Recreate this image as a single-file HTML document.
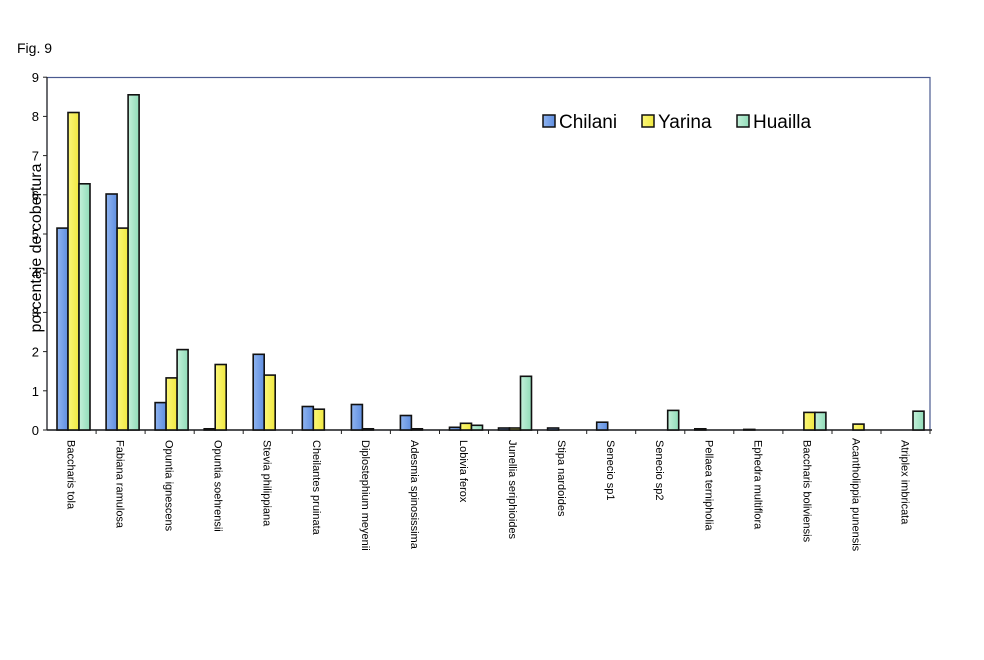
<!DOCTYPE html>
<html><head><meta charset="utf-8"><style>
body{margin:0;background:#fff;}
svg{display:block;font-family:"Liberation Sans",Arial,sans-serif;}
</style></head><body>
<svg width="984" height="660" viewBox="0 0 984 660" xmlns="http://www.w3.org/2000/svg">
<defs>
<linearGradient id="gb" x1="0" x2="1"><stop offset="0" stop-color="#8fb4f0"/><stop offset="1" stop-color="#5f8ee0"/></linearGradient>
<linearGradient id="gy" x1="0" x2="1"><stop offset="0" stop-color="#fbf77a"/><stop offset="1" stop-color="#f0e840"/></linearGradient>
<linearGradient id="gg" x1="0" x2="1"><stop offset="0" stop-color="#c4f0da"/><stop offset="1" stop-color="#90dcb8"/></linearGradient>
</defs>
<rect width="984" height="660" fill="#fff"/>
<text x="17" y="53" font-size="14">Fig. 9</text>
<!-- plot frame -->
<rect x="47" y="77.5" width="883" height="352.5" fill="none" stroke="#4a5a90" stroke-width="1.2"/>
<line x1="47" y1="430" x2="932" y2="430" stroke="#222" stroke-width="1.5"/>
<line x1="47" y1="77" x2="47" y2="430" stroke="#222" stroke-width="1.2"/>
<!-- y ticks -->
<g stroke="#222" stroke-width="1">
<line x1="43" y1="430" x2="47" y2="430"/><line x1="43" y1="390.8" x2="47" y2="390.8"/><line x1="43" y1="351.6" x2="47" y2="351.6"/><line x1="43" y1="312.4" x2="47" y2="312.4"/><line x1="43" y1="273.2" x2="47" y2="273.2"/><line x1="43" y1="234" x2="47" y2="234"/><line x1="43" y1="194.8" x2="47" y2="194.8"/><line x1="43" y1="155.6" x2="47" y2="155.6"/><line x1="43" y1="116.4" x2="47" y2="116.4"/><line x1="43" y1="77.2" x2="47" y2="77.2"/>
</g>
<g font-size="13" text-anchor="end">
<text x="39" y="435">0</text><text x="39" y="396">1</text><text x="39" y="356.5">2</text><text x="39" y="317">3</text><text x="39" y="278">4</text><text x="39" y="239">5</text><text x="39" y="200">6</text><text x="39" y="160.5">7</text><text x="39" y="121">8</text><text x="39" y="82">9</text>
</g>
<text transform="translate(41,248) rotate(-90)" font-size="16" text-anchor="middle">porcentaje de cobertura</text>
<!-- x ticks -->
<g stroke="#222" stroke-width="1">
<line x1="96.1" y1="430" x2="96.1" y2="434"/><line x1="145.1" y1="430" x2="145.1" y2="434"/><line x1="194.2" y1="430" x2="194.2" y2="434"/><line x1="243.2" y1="430" x2="243.2" y2="434"/><line x1="292.3" y1="430" x2="292.3" y2="434"/><line x1="341.4" y1="430" x2="341.4" y2="434"/><line x1="390.4" y1="430" x2="390.4" y2="434"/><line x1="439.5" y1="430" x2="439.5" y2="434"/><line x1="488.5" y1="430" x2="488.5" y2="434"/><line x1="537.6" y1="430" x2="537.6" y2="434"/><line x1="586.7" y1="430" x2="586.7" y2="434"/><line x1="635.7" y1="430" x2="635.7" y2="434"/><line x1="684.8" y1="430" x2="684.8" y2="434"/><line x1="733.8" y1="430" x2="733.8" y2="434"/><line x1="782.9" y1="430" x2="782.9" y2="434"/><line x1="832" y1="430" x2="832" y2="434"/><line x1="881" y1="430" x2="881" y2="434"/><line x1="930" y1="430" x2="930" y2="434"/>
</g>
<!-- bars -->
<g stroke="#111" stroke-width="1.6">
<rect x="57" y="228.1" width="11" height="201.9" fill="url(#gb)"/>
<rect x="68" y="112.5" width="11" height="317.5" fill="url(#gy)"/>
<rect x="79" y="183.8" width="11" height="246.2" fill="url(#gg)"/>
<rect x="106.1" y="194" width="11" height="236" fill="url(#gb)"/>
<rect x="117.1" y="228.1" width="11" height="201.9" fill="url(#gy)"/>
<rect x="128.1" y="94.8" width="11" height="335.2" fill="url(#gg)"/>
<rect x="155.1" y="402.6" width="11" height="27.4" fill="url(#gb)"/>
<rect x="166.1" y="377.9" width="11" height="52.1" fill="url(#gy)"/>
<rect x="177.1" y="349.6" width="11" height="80.4" fill="url(#gg)"/>
<rect x="204.2" y="428.8" width="11" height="1.2" fill="url(#gb)"/>
<rect x="215.2" y="364.5" width="11" height="65.5" fill="url(#gy)"/>
<rect x="253.2" y="354.3" width="11" height="75.7" fill="url(#gb)"/>
<rect x="264.2" y="375.1" width="11" height="54.9" fill="url(#gy)"/>
<rect x="302.3" y="406.5" width="11" height="23.5" fill="url(#gb)"/>
<rect x="313.3" y="409.2" width="11" height="20.8" fill="url(#gy)"/>
<rect x="351.4" y="404.5" width="11" height="25.5" fill="url(#gb)"/>
<rect x="362.4" y="428.8" width="11" height="1.2" fill="url(#gy)"/>
<rect x="400.4" y="415.5" width="11" height="14.5" fill="url(#gb)"/>
<rect x="411.4" y="428.8" width="11" height="1.2" fill="url(#gy)"/>
<rect x="449.5" y="427.3" width="11" height="2.7" fill="url(#gb)"/>
<rect x="460.5" y="423.3" width="11" height="6.7" fill="url(#gy)"/>
<rect x="471.5" y="425.3" width="11" height="4.7" fill="url(#gg)"/>
<rect x="498.5" y="428" width="11" height="2" fill="url(#gb)"/>
<rect x="509.5" y="428" width="11" height="2" fill="url(#gy)"/>
<rect x="520.5" y="376.3" width="11" height="53.7" fill="url(#gg)"/>
<rect x="547.6" y="428" width="11" height="2" fill="url(#gb)"/>
<rect x="596.7" y="422.2" width="11" height="7.8" fill="url(#gb)"/>
<rect x="667.7" y="410.4" width="11" height="19.6" fill="url(#gg)"/>
<rect x="694.8" y="428.8" width="11" height="1.2" fill="url(#gb)"/>
<rect x="743.8" y="429.4" width="11" height="0.6" fill="url(#gb)"/>
<rect x="803.9" y="412.4" width="11" height="17.6" fill="url(#gy)"/>
<rect x="814.9" y="412.4" width="11" height="17.6" fill="url(#gg)"/>
<rect x="853" y="424.1" width="11" height="5.9" fill="url(#gy)"/>
<rect x="913" y="411.2" width="11" height="18.8" fill="url(#gg)"/>
</g>
<!-- legend -->
<g font-size="19">
<rect x="543" y="115" width="12" height="12" fill="url(#gb)" stroke="#111" stroke-width="1.5"/>
<text x="559" y="128">Chilani</text>
<rect x="642" y="115" width="12" height="12" fill="url(#gy)" stroke="#111" stroke-width="1.5"/>
<text x="658" y="128">Yarina</text>
<rect x="737" y="115" width="12" height="12" fill="url(#gg)" stroke="#111" stroke-width="1.5"/>
<text x="753" y="128">Huailla</text>
</g>
<!-- x labels -->
<g font-size="11">
<text transform="translate(67.5,440) rotate(90)">Baccharis tola</text>
<text transform="translate(116.6,440) rotate(90)">Fabiana ramulosa</text>
<text transform="translate(165.6,440) rotate(90)">Opuntia ignescens</text>
<text transform="translate(214.7,440) rotate(90)">Opuntia soehrensii</text>
<text transform="translate(263.7,440) rotate(90)">Stevia philippiana</text>
<text transform="translate(312.8,440) rotate(90)">Cheilantes pruinata</text>
<text transform="translate(361.9,440) rotate(90)">Diplostephium meyenii</text>
<text transform="translate(410.9,440) rotate(90)">Adesmia spinosissima</text>
<text transform="translate(460,440) rotate(90)">Lobivia ferox</text>
<text transform="translate(509,440) rotate(90)">Junellia seriphioides</text>
<text transform="translate(558.1,440) rotate(90)">Stipa nardoides</text>
<text transform="translate(607.2,440) rotate(90)">Senecio sp1</text>
<text transform="translate(656.2,440) rotate(90)">Senecio sp2</text>
<text transform="translate(705.3,440) rotate(90)">Pellaea ternipholia</text>
<text transform="translate(754.3,440) rotate(90)">Ephedra multiflora</text>
<text transform="translate(803.4,440) rotate(90)">Baccharis boliviensis</text>
<text transform="translate(852.5,438) rotate(90)">Acantholippia punensis</text>
<text transform="translate(901.5,440) rotate(90)">Atriplex imbricata</text>
</g>
</svg>
</body></html>
